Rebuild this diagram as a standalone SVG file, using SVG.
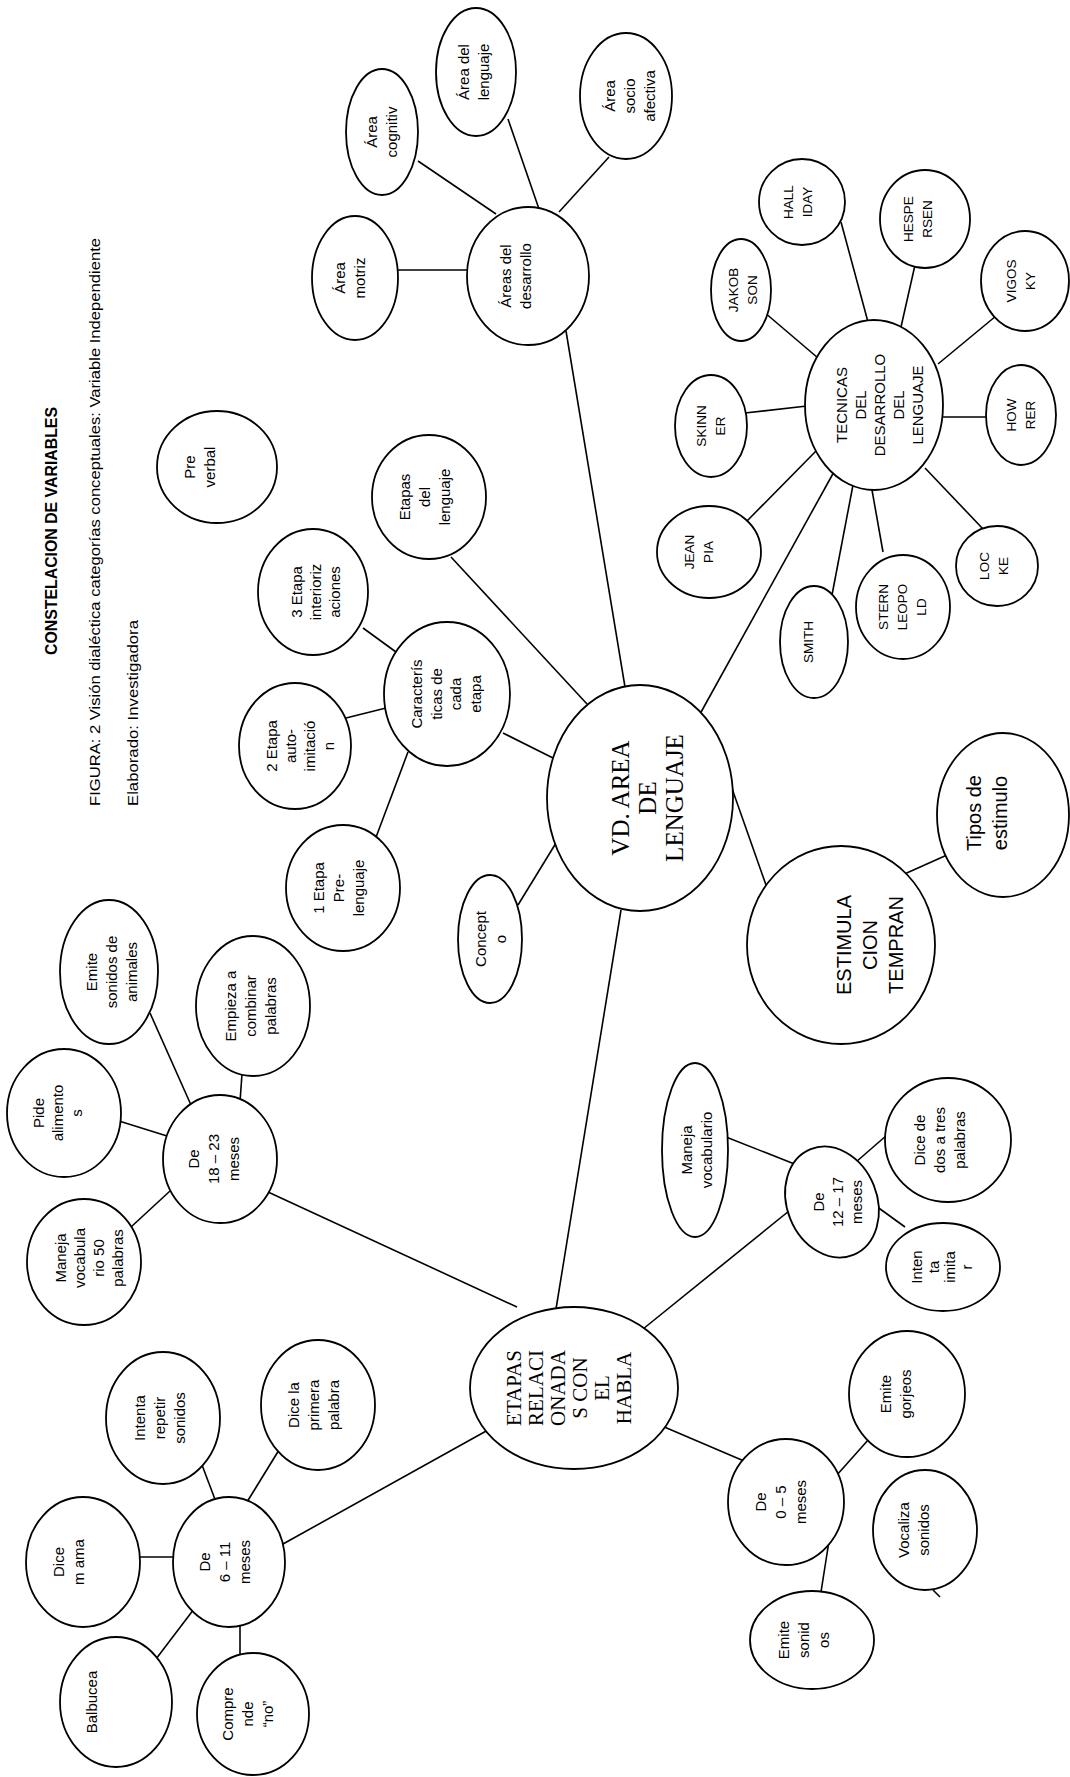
<svg xmlns="http://www.w3.org/2000/svg" width="1070" height="1777" viewBox="0 0 1070 1777">
<style>
.n{fill:#fff;stroke:#000;stroke-width:1.8}
#connectors line{stroke:#000;stroke-width:1.6}
text{fill:#000}
.t{font-family:"Liberation Sans",Arial,sans-serif;font-size:15px;text-anchor:middle}
.tc{font-family:"Liberation Sans",Arial,sans-serif;font-size:13.5px;text-anchor:middle}
.tb{font-family:"Liberation Sans",Arial,sans-serif;font-size:20px;text-anchor:middle}
.s{font-family:"Liberation Serif","Times New Roman",serif;text-anchor:middle}
.h{font-family:"Liberation Sans",Arial,sans-serif}
</style>
<rect width="1070" height="1777" fill="#fff"/>
<g id="header">
<text class="h" font-weight="bold" font-size="17" textLength="248" lengthAdjust="spacingAndGlyphs" transform="translate(57,655) rotate(-90)">CONSTELACION DE VARIABLES</text>
<text class="h" font-size="15.5" textLength="568" lengthAdjust="spacingAndGlyphs" transform="translate(100,806) rotate(-90)">FIGURA: 2 Visión  dialéctica categorías conceptuales: Variable Independiente</text>
<text class="h" font-size="15.5" textLength="186" lengthAdjust="spacingAndGlyphs" transform="translate(138,806) rotate(-90)">Elaborado: Investigadora</text>
</g>
<g id="connectors">
<line x1="398" y1="270" x2="467" y2="270"/>
<line x1="418" y1="161" x2="496" y2="214"/>
<line x1="508" y1="119" x2="539" y2="209"/>
<line x1="609" y1="157" x2="559" y2="212"/>
<line x1="566" y1="331" x2="625" y2="687"/>
<line x1="451" y1="557" x2="587" y2="704"/>
<line x1="363" y1="628" x2="396" y2="652"/>
<line x1="346" y1="718" x2="386" y2="708"/>
<line x1="375" y1="840" x2="408" y2="752"/>
<line x1="503" y1="733" x2="553" y2="758"/>
<line x1="518" y1="905" x2="556" y2="843"/>
<line x1="700" y1="714" x2="835" y2="470"/>
<line x1="729" y1="780" x2="766" y2="885"/>
<line x1="900" y1="876" x2="947" y2="855"/>
<line x1="621" y1="910" x2="556" y2="1309"/>
<line x1="764" y1="312" x2="818" y2="358"/>
<line x1="841" y1="222" x2="868" y2="322"/>
<line x1="915" y1="265" x2="901" y2="327"/>
<line x1="996" y1="316" x2="938" y2="364"/>
<line x1="988" y1="417" x2="941" y2="417"/>
<line x1="745" y1="413" x2="807" y2="406"/>
<line x1="817" y1="450" x2="746" y2="522"/>
<line x1="853" y1="485" x2="832" y2="595"/>
<line x1="872" y1="490" x2="883" y2="552"/>
<line x1="925" y1="468" x2="984" y2="530"/>
<line x1="119" y1="1121" x2="167" y2="1136"/>
<line x1="150" y1="1013" x2="191" y2="1105"/>
<line x1="242" y1="1074" x2="240" y2="1102"/>
<line x1="131" y1="1227" x2="170" y2="1191"/>
<line x1="268" y1="1192" x2="517" y2="1307"/>
<line x1="488" y1="1430" x2="283" y2="1544"/>
<line x1="202" y1="1465" x2="216" y2="1502"/>
<line x1="279" y1="1450" x2="247" y2="1502"/>
<line x1="138" y1="1557" x2="175" y2="1557"/>
<line x1="156" y1="1659" x2="194" y2="1609"/>
<line x1="240" y1="1655" x2="240" y2="1624"/>
<line x1="643" y1="1329" x2="789" y2="1211"/>
<line x1="726" y1="1137" x2="797" y2="1165"/>
<line x1="887" y1="1135" x2="856" y2="1162"/>
<line x1="876" y1="1206" x2="905" y2="1227"/>
<line x1="662" y1="1426" x2="744" y2="1461"/>
<line x1="836" y1="1476" x2="869" y2="1439"/>
<line x1="829" y1="1541" x2="821" y2="1592"/>
<line x1="933" y1="1590" x2="940" y2="1597"/>
</g>
<g id="area_motriz"><ellipse class="n" cx="355" cy="278" rx="43" ry="62"/><text class="t" transform="translate(350,278) rotate(-90)"><tspan x="0" y="-5">Área</tspan><tspan x="0" y="15">motriz</tspan></text></g>
<g id="area_cognitiv"><ellipse class="n" cx="382" cy="132" rx="36" ry="63"/><text class="t" transform="translate(382,132) rotate(-90)"><tspan x="0" y="-5">Área</tspan><tspan x="0" y="15">cognitiv</tspan></text></g>
<g id="area_lenguaje"><ellipse class="n" cx="476" cy="72" rx="40" ry="64"/><text class="t" transform="translate(474,72) rotate(-90)"><tspan x="0" y="-5">Área del</tspan><tspan x="0" y="15">lenguaje</tspan></text></g>
<g id="area_socio"><ellipse class="n" cx="626" cy="96" rx="46" ry="63"/><text class="t" transform="translate(630,96) rotate(-90)"><tspan x="0" y="-15">Área</tspan><tspan x="0" y="5">socio</tspan><tspan x="0" y="25">afectiva</tspan></text></g>
<g id="areas_desarrollo"><ellipse class="n" cx="528" cy="276" rx="61" ry="69"/><text class="t" transform="translate(516,276) rotate(-90)"><tspan x="0" y="-5">Áreas del</tspan><tspan x="0" y="15">desarrollo</tspan></text></g>
<g id="pre_verbal"><ellipse class="n" cx="217" cy="467" rx="60" ry="56"/><text class="t" transform="translate(200,467) rotate(-90)"><tspan x="0" y="-5">Pre</tspan><tspan x="0" y="15">verbal</tspan></text></g>
<g id="etapas_lenguaje"><ellipse class="n" cx="429" cy="497" rx="57" ry="62"/><text class="t" transform="translate(425,497) rotate(-90)"><tspan x="0" y="-15">Etapas</tspan><tspan x="0" y="5">del</tspan><tspan x="0" y="25">lenguaje</tspan></text></g>
<g id="etapa3"><ellipse class="n" cx="313" cy="592" rx="55" ry="63"/><text class="t" transform="translate(316,592) rotate(-90)"><tspan x="0" y="-14">3 Etapa</tspan><tspan x="0" y="5">interioriz</tspan><tspan x="0" y="24">aciones</tspan></text></g>
<g id="etapa2"><ellipse class="n" cx="295" cy="746" rx="56" ry="63"/><text class="t" transform="translate(300,746) rotate(-90)"><tspan x="0" y="-23.5">2 Etapa</tspan><tspan x="0" y="-4.5">auto-</tspan><tspan x="0" y="14.5">imitació</tspan><tspan x="0" y="33.5">n</tspan></text></g>
<g id="caracteristicas"><ellipse class="n" cx="447" cy="694" rx="63" ry="72"/><text class="t" transform="translate(446,694) rotate(-90)"><tspan x="0" y="-24">Caracterís</tspan><tspan x="0" y="-4.5">ticas de</tspan><tspan x="0" y="15">cada</tspan><tspan x="0" y="34.5">etapa</tspan></text></g>
<g id="etapa1"><ellipse class="n" cx="343" cy="888" rx="57" ry="63"/><text class="t" transform="translate(339,888) rotate(-90)"><tspan x="0" y="-15">1 Etapa</tspan><tspan x="0" y="5">Pre-</tspan><tspan x="0" y="25">lenguaje</tspan></text></g>
<g id="concepto"><ellipse class="n" cx="490" cy="939" rx="32" ry="64"/><text class="t" transform="translate(491,939) rotate(-90)"><tspan x="0" y="-5">Concept</tspan><tspan x="0" y="15">o</tspan></text></g>
<g id="vd_area_lenguaje"><ellipse class="n" cx="640" cy="798" rx="93" ry="113"/><text class="s" font-size="25" transform="translate(648,798) rotate(-90)"><tspan x="0" y="-19">VD. AREA</tspan><tspan x="0" y="8">DE</tspan><tspan x="0" y="35">LENGUAJE</tspan></text></g>
<g id="tecnicas"><ellipse class="n" cx="874" cy="405" rx="69" ry="85"/><text class="t" font-size="14" transform="translate(880,405) rotate(-90)"><tspan x="0" y="-33">TECNICAS</tspan><tspan x="0" y="-14">DEL</tspan><tspan x="0" y="5">DESARROLLO</tspan><tspan x="0" y="24">DEL</tspan><tspan x="0" y="43">LENGUAJE</tspan></text></g>
<g id="jakobson"><ellipse class="n" cx="741" cy="290" rx="30" ry="51"/><text class="tc" transform="translate(742,290) rotate(-90)"><tspan x="0" y="-4.5">JAKOB</tspan><tspan x="0" y="14.5">SON</tspan></text></g>
<g id="halliday"><ellipse class="n" cx="802" cy="202" rx="43" ry="43"/><text class="tc" transform="translate(797,202) rotate(-90)"><tspan x="0" y="-4.5">HALL</tspan><tspan x="0" y="14.5">IDAY</tspan></text></g>
<g id="hespersen"><ellipse class="n" cx="925" cy="219" rx="45" ry="49"/><text class="tc" transform="translate(917,219) rotate(-90)"><tspan x="0" y="-4.5">HESPE</tspan><tspan x="0" y="14.5">RSEN</tspan></text></g>
<g id="vigosky"><ellipse class="n" cx="1025" cy="281" rx="44" ry="50"/><text class="tc" transform="translate(1020,281) rotate(-90)"><tspan x="0" y="-4.5">VIGOS</tspan><tspan x="0" y="14.5">KY</tspan></text></g>
<g id="howrer"><ellipse class="n" cx="1021" cy="415" rx="35" ry="50"/><text class="tc" transform="translate(1020,415) rotate(-90)"><tspan x="0" y="-4.5">HOW</tspan><tspan x="0" y="14.5">RER</tspan></text></g>
<g id="skinner"><ellipse class="n" cx="711" cy="426" rx="36" ry="51"/><text class="tc" transform="translate(710,426) rotate(-90)"><tspan x="0" y="-4.5">SKINN</tspan><tspan x="0" y="14.5">ER</tspan></text></g>
<g id="jeanpia"><ellipse class="n" cx="709" cy="552" rx="52" ry="46"/><text class="tc" transform="translate(698,552) rotate(-90)"><tspan x="0" y="-4.5">JEAN</tspan><tspan x="0" y="14.5">PIA</tspan></text></g>
<g id="smith"><ellipse class="n" cx="814" cy="642" rx="34" ry="56"/><text class="tc" transform="translate(808,642) rotate(-90)"><tspan x="0" y="5">SMITH</tspan></text></g>
<g id="stern"><ellipse class="n" cx="903" cy="607" rx="47" ry="52"/><text class="tc" transform="translate(902,607) rotate(-90)"><tspan x="0" y="-14">STERN</tspan><tspan x="0" y="5">LEOPO</tspan><tspan x="0" y="24">LD</tspan></text></g>
<g id="locke"><ellipse class="n" cx="997" cy="566" rx="41" ry="40"/><text class="tc" transform="translate(993,566) rotate(-90)"><tspan x="0" y="-4.5">LOC</tspan><tspan x="0" y="14.5">KE</tspan></text></g>
<g id="estimulacion"><ellipse class="n" cx="841" cy="945" rx="94" ry="99"/><text class="tb" transform="translate(870,945) rotate(-90)"><tspan x="0" y="-19">ESTIMULA</tspan><tspan x="0" y="7">CION</tspan><tspan x="0" y="33">TEMPRAN</tspan></text></g>
<g id="tipos_estimulo"><ellipse class="n" cx="1003" cy="815" rx="66" ry="82"/><text class="tb" transform="translate(987,813) rotate(-90)"><tspan x="0" y="-6">Tipos de</tspan><tspan x="0" y="20">estimulo</tspan></text></g>
<g id="emite_animales"><ellipse class="n" cx="109" cy="972" rx="49" ry="72"/><text class="t" transform="translate(112,972) rotate(-90)"><tspan x="0" y="-15">Emite</tspan><tspan x="0" y="5">sonidos de</tspan><tspan x="0" y="25">animales</tspan></text></g>
<g id="empieza"><ellipse class="n" cx="253" cy="1006" rx="57" ry="70"/><text class="t" transform="translate(251,1006) rotate(-90)"><tspan x="0" y="-15">Empieza a</tspan><tspan x="0" y="5">combinar</tspan><tspan x="0" y="25">palabras</tspan></text></g>
<g id="pide"><ellipse class="n" cx="64" cy="1113" rx="57" ry="64"/><text class="t" transform="translate(58,1113) rotate(-90)"><tspan x="0" y="-14">Pide</tspan><tspan x="0" y="5">alimento</tspan><tspan x="0" y="24">s</tspan></text></g>
<g id="de18"><ellipse class="n" cx="220" cy="1159" rx="57" ry="64"/><text class="t" transform="translate(214,1159) rotate(-90)"><tspan x="0" y="-15">De</tspan><tspan x="0" y="5">18 – 23</tspan><tspan x="0" y="25">meses</tspan></text></g>
<g id="maneja50"><ellipse class="n" cx="84" cy="1262" rx="57" ry="63"/><text class="t" transform="translate(89,1258) rotate(-90)"><tspan x="0" y="-23.5">Maneja</tspan><tspan x="0" y="-4.5">vocabula</tspan><tspan x="0" y="14.5">rio 50</tspan><tspan x="0" y="33.5">palabras</tspan></text></g>
<g id="intenta_repetir"><ellipse class="n" cx="163" cy="1418" rx="57" ry="66"/><text class="t" transform="translate(160,1418) rotate(-90)"><tspan x="0" y="-15">Intenta</tspan><tspan x="0" y="5">repetir</tspan><tspan x="0" y="25">sonidos</tspan></text></g>
<g id="dice_primera"><ellipse class="n" cx="318" cy="1405" rx="57" ry="65"/><text class="t" transform="translate(314,1405) rotate(-90)"><tspan x="0" y="-15">Dice la</tspan><tspan x="0" y="5">primera</tspan><tspan x="0" y="25">palabra</tspan></text></g>
<g id="dice_mama"><ellipse class="n" cx="83" cy="1562" rx="57" ry="65"/><text class="t" transform="translate(69,1562) rotate(-90)"><tspan x="0" y="-5">Dice</tspan><tspan x="0" y="15">m ama</tspan></text></g>
<g id="de6"><ellipse class="n" cx="229" cy="1562" rx="56" ry="65"/><text class="t" transform="translate(225,1562) rotate(-90)"><tspan x="0" y="-15">De</tspan><tspan x="0" y="5">6 – 11</tspan><tspan x="0" y="25">meses</tspan></text></g>
<g id="balbucea"><ellipse class="n" cx="116" cy="1702" rx="56" ry="65"/><text class="t" transform="translate(92,1702) rotate(-90)"><tspan x="0" y="5">Balbucea</tspan></text></g>
<g id="comprende"><ellipse class="n" cx="253" cy="1714" rx="56" ry="61"/><text class="t" transform="translate(248,1714) rotate(-90)"><tspan x="0" y="-15">Compre</tspan><tspan x="0" y="5">nde</tspan><tspan x="0" y="25">“no”</tspan></text></g>
<g id="etapas_habla"><ellipse class="n" cx="574" cy="1388" rx="104" ry="81"/><text class="s" font-size="21" transform="translate(569,1388) rotate(-90)"><tspan x="0" y="-48">ETAPAS</tspan><tspan x="0" y="-26">RELACI</tspan><tspan x="0" y="-4">ONADA</tspan><tspan x="0" y="18">S CON</tspan><tspan x="0" y="40">EL</tspan><tspan x="0" y="62">HABLA</tspan></text></g>
<g id="maneja_vocabulario"><ellipse class="n" cx="695" cy="1150" rx="33" ry="87"/><text class="t" transform="translate(697,1150) rotate(-90)"><tspan x="0" y="-5">Maneja</tspan><tspan x="0" y="15">vocabulario</tspan></text></g>
<g id="de12"><ellipse class="n" cx="832" cy="1202" rx="45" ry="57" transform="rotate(-22 832 1202)"/><text class="t" transform="translate(838,1202) rotate(-90)"><tspan x="0" y="-14">De</tspan><tspan x="0" y="5">12 – 17</tspan><tspan x="0" y="24">meses</tspan></text></g>
<g id="dice_dos_tres"><ellipse class="n" cx="948" cy="1140" rx="63" ry="62"/><text class="t" transform="translate(940,1140) rotate(-90)"><tspan x="0" y="-15">Dice de</tspan><tspan x="0" y="5">dos a tres</tspan><tspan x="0" y="25">palabras</tspan></text></g>
<g id="intenta_imitar"><ellipse class="n" cx="943" cy="1267" rx="57" ry="44"/><text class="t" transform="translate(942,1267) rotate(-90)"><tspan x="0" y="-19.75">Inten</tspan><tspan x="0" y="-3.25">ta</tspan><tspan x="0" y="13.25">imita</tspan><tspan x="0" y="29.75">r</tspan></text></g>
<g id="de0"><ellipse class="n" cx="786" cy="1502" rx="58" ry="63"/><text class="t" transform="translate(781,1502) rotate(-90)"><tspan x="0" y="-15">De</tspan><tspan x="0" y="5">0 – 5</tspan><tspan x="0" y="25">meses</tspan></text></g>
<g id="emite_gorjeos"><ellipse class="n" cx="907" cy="1394" rx="58" ry="63"/><text class="t" transform="translate(896,1394) rotate(-90)"><tspan x="0" y="-5">Emite</tspan><tspan x="0" y="15">gorjeos</tspan></text></g>
<g id="vocaliza"><ellipse class="n" cx="925" cy="1530" rx="52" ry="60"/><text class="t" transform="translate(914,1530) rotate(-90)"><tspan x="0" y="-5">Vocaliza</tspan><tspan x="0" y="15">sonidos</tspan></text></g>
<g id="emite_sonidos"><ellipse class="n" cx="812" cy="1640" rx="62" ry="49"/><text class="t" transform="translate(804,1640) rotate(-90)"><tspan x="0" y="-15">Emite</tspan><tspan x="0" y="5">sonid</tspan><tspan x="0" y="25">os</tspan></text></g>
</svg>
